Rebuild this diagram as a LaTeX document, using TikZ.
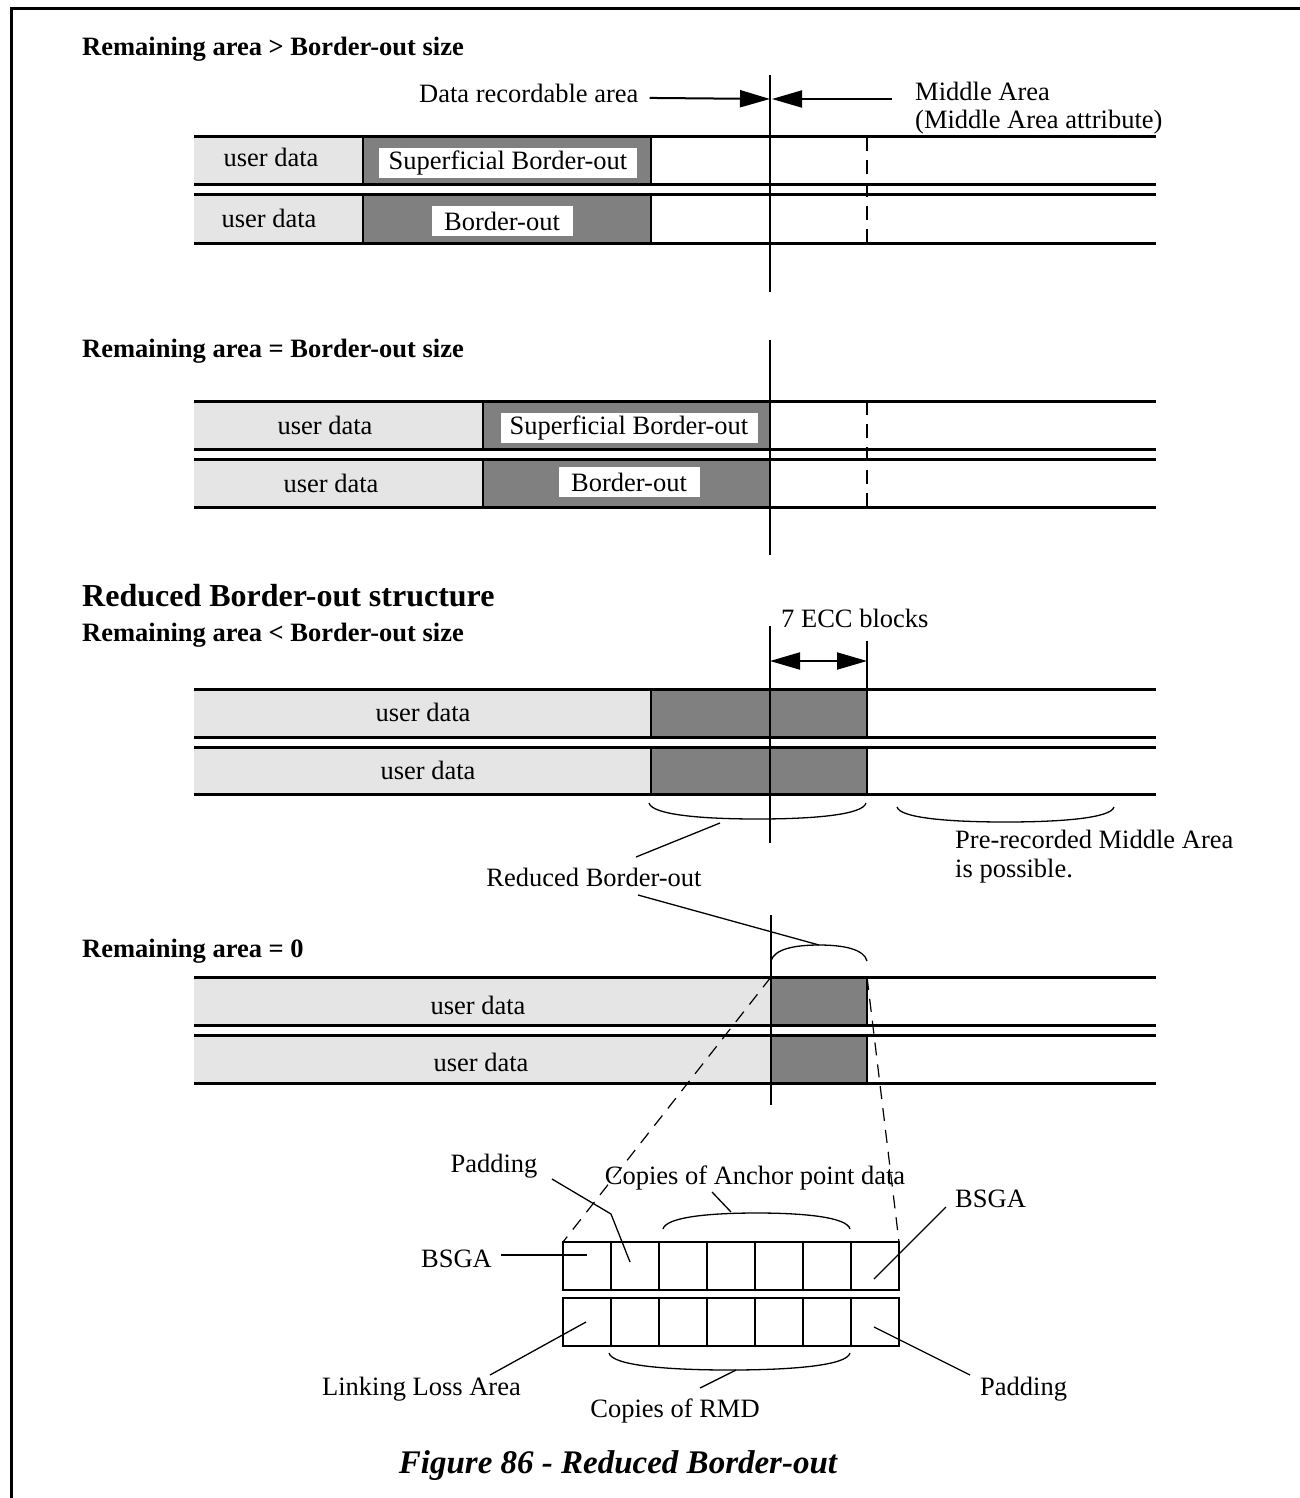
\documentclass[tikz,border=0pt]{standalone}
\usepackage{fontspec}
\setmainfont{Liberation Serif}
\usetikzlibrary{arrows.meta}
\definecolor{userfill}{gray}{0.90}
\definecolor{borderfill}{gray}{0.50}

\begin{document}
\begin{tikzpicture}[x=1pt, y=-1pt,
    txt/.style={font=\fontsize{26.5}{28}\selectfont, inner sep=0pt},
    ttl/.style={font=\bfseries\fontsize{26.5}{28}\selectfont, inner sep=0pt, anchor=base west},
    tag/.style={txt, fill=white, minimum height=30pt},
    track/.style={line width=3pt},
    edge/.style={line width=2pt},
    lead/.style={line width=1.3pt},
    cutline/.style={line width=1.8pt, dash pattern=on 14pt off 9pt},
    zoomline/.style={line width=1.2pt, dash pattern=on 13pt off 9pt},
    pointer/.style={line width=2pt, -{Triangle[length=30pt,width=17pt]}},
]
\useasboundingbox (0,0) rectangle (1300,1498);

%% --- frame ---
\draw[line width=3.5pt] (11.5,1498) -- (11.5,8.5) -- (1300,8.5);

%% --- tracks: user data / border-out / rest ---
\foreach \t/\b/\s/\e in {137/185/363/651, 195/243/363/651,
    401/449/483/770, 459/507/483/770,
    689/737/651/867, 747/794/651/867,
    977/1025/771/867, 1035/1083/771/867}{
    \fill[userfill] (194,\t) rectangle (\s,\b);
    \fill[borderfill] (\s,\t) rectangle (\e,\b);
    \draw[edge] (\s,\t) -- (\s,\b) (\e,\t) -- (\e,\b);
    \draw[track] (194,\t) -- (1156,\t) (194,\b) -- (1156,\b);
}

%% --- boundary of data recordable area ---
\draw[edge] (770,75) -- (770,292);
\draw[edge] (770,340) -- (770,555);
\draw[edge] (770,626) -- (770,843);
\draw[edge] (867,641) -- (867,689);
\draw[edge] (771,915) -- (771,1105);

%% --- middle area start ---
\draw[cutline] (867,137) -- (867,243);
\draw[cutline] (867,401) -- (867,507);

%% --- case 1: remaining area > border-out size ---
\node[ttl] (case1) at (82,56) {Remaining area > Border-out size};
\node[txt, anchor=base west] (dra) at (419,103) {Data recordable area};
\node[txt, anchor=north west, align=left] (mid) at (915,82)
    {Middle Area\\(Middle Area attribute)};
\coordinate (lim1) at (770,99);
\coordinate (lim1r) at (772,99);
\draw[pointer] ([xshift=11pt,yshift=-4pt]dra.east) -- (lim1);
\draw[pointer] (892,99) coordinate (mida) -- (lim1r);
\node[txt, anchor=base] (ud1a) at (271,167) {user data};
\node[txt, anchor=base] (ud1b) at (269,227) {user data};
\node[tag, minimum width=258pt] (sbo1) at (508,163) {Superficial Border-out};
\node[tag, minimum width=141pt] (bo1) at (502,221) {Border-out};

%% --- case 2: remaining area = border-out size ---
\node[ttl] (case2) at (82,357) {Remaining area = Border-out size};
\node[txt, anchor=base] (ud2a) at (325,434) {user data};
\node[txt, anchor=base] (ud2b) at (331,492) {user data};
\node[tag, minimum width=257pt] (sbo2) at (629,428) {Superficial Border-out};
\node[tag, minimum width=141pt] (bo2) at (629,482) {Border-out};

%% --- reduced structure ---
\node[font=\bfseries\fontsize{32}{34}\selectfont, inner sep=0pt, anchor=base west]
    (head) at (82,606) {Reduced Border-out structure};

%% --- case 3: remaining area < border-out size ---
\node[ttl] (case3) at (82,641) {Remaining area < Border-out size};
\node[txt, anchor=base west] (ecc) at (781,627) {7 ECC blocks};
\coordinate (ecca) at (770,661);
\coordinate (eccb) at (867,661);
\draw[line width=2pt, {Triangle[length=30pt,width=17pt]}-{Triangle[length=30pt,width=17pt]}]
    (ecca) -- (eccb);
\node[txt, anchor=base] (ud3a) at (423,721) {user data};
\node[txt, anchor=base] (ud3b) at (428,779) {user data};
\node[txt, anchor=base] (rbo) at (594,886) {Reduced Border-out};
\node[txt, anchor=north west, align=left, font=\fontsize{26.5}{29}\selectfont]
    (pre) at (955,830) {Pre-recorded Middle Area\\is possible.};

%% --- braces ---
\foreach \a/\b/\t/\d in {649/866/803/16, 897/1114/807/15, 771/867/961/-16,
    663/850/1229/-16, 609/850/1353/17}{
    \draw[lead] (\a,\t) .. controls ({\a+3},{\t+0.75*\d}) and ({\a+0.25*(\b-\a)},{\t+\d})
        .. ({(\a+\b)/2},{\t+\d}) .. controls ({\b-0.25*(\b-\a)},{\t+\d}) and ({\b-3},{\t+0.75*\d}) .. (\b,\t);
}

%% --- case 4: remaining area = 0 ---
\node[ttl] (case4) at (82,957) {Remaining area = 0};
\node[txt, anchor=base] (ud4a) at (478,1014) {user data};
\node[txt, anchor=base] (ud4b) at (481,1071) {user data};
\coordinate (rbo-a) at (720,823);
\coordinate (rbo-b) at (636,857);
\coordinate (rbo-c) at (638,895);
\coordinate (rbo-d) at (819,945);
\draw[lead] (rbo-a) -- (rbo-b);
\draw[lead] (rbo-c) -- (rbo-d);

%% --- zoom into the reduced border-out ---
\coordinate (zl) at (771,977);
\coordinate (zr) at (867,977);
\coordinate (cl) at (563,1242);
\coordinate (cr) at (899,1242);
\draw[zoomline] (zl) -- (cl);
\draw[zoomline] (zr) -- (cr);

\foreach \r in {1242,1298}{
    \draw[line width=2.5pt] (563,\r) rectangle (899,{\r+48});
    \foreach \k in {1,...,6}
        \draw[edge] ({563+48*\k},\r) -- ({563+48*\k},{\r+48});
}

%% --- block labels ---
\node[txt, anchor=base] (padl) at (494,1172) {Padding};
\node[txt, anchor=base] (anc) at (755,1184) {Copies of Anchor point data};
\node[txt, anchor=base west] (bsgal) at (421,1267) {BSGA};
\node[txt, anchor=base west] (bsgar) at (955,1207) {BSGA};
\node[txt, anchor=base east] (lla) at (521,1395) {Linking Loss Area};
\node[txt, anchor=base] (rmd) at (675,1417) {Copies of RMD};
\node[txt, anchor=base west] (padr) at (980,1395) {Padding};

\coordinate (padl-a) at (552,1179);
\coordinate (padl-b) at (611,1214);
\coordinate (padl-c) at (630,1262);
\draw[lead] (padl-a) -- (padl-b) -- (padl-c);
\coordinate (anc-a) at (712,1192);
\coordinate (anc-b) at (731,1212);
\draw[lead] (anc-a) -- (anc-b);
\coordinate (bsgal-a) at (501,1255);
\coordinate (bsgal-b) at (587,1255);
\draw[edge] (bsgal-a) -- (bsgal-b);
\coordinate (bsgar-a) at (946,1207);
\coordinate (bsgar-b) at (874,1279);
\draw[lead] (bsgar-a) -- (bsgar-b);
\coordinate (lla-a) at (490,1375);
\coordinate (lla-b) at (586,1322);
\draw[lead] (lla-a) -- (lla-b);
\coordinate (rmd-a) at (736,1370);
\coordinate (rmd-b) at (700,1388);
\draw[lead] (rmd-a) -- (rmd-b);
\coordinate (padr-a) at (970,1375);
\coordinate (padr-b) at (874,1327);
\draw[lead] (padr-a) -- (padr-b);

%% --- caption ---
\node[font=\bfseries\itshape\fontsize{33}{35}\selectfont, inner sep=0pt, anchor=base]
    (cap) at (618,1473) {Figure 86 - Reduced Border-out};

\end{tikzpicture}
\end{document}
